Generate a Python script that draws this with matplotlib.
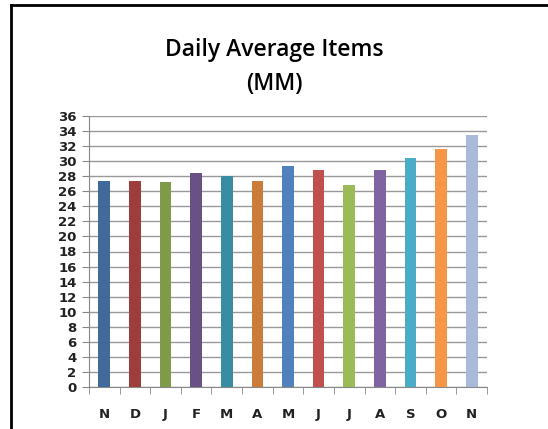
import matplotlib.pyplot as plt
from matplotlib.lines import Line2D

# months and daily average items (MM)
months = ["N", "D", "J", "F", "M", "A", "M", "J", "J", "A", "S", "O", "N"]
values = [27.4, 27.4, 27.2, 28.4, 28.0, 27.4, 29.35, 28.8, 26.8, 28.8, 30.4, 31.6, 33.5]
colors = ["#416A9B", "#9E3E3C", "#7F9A48", "#695185", "#3A8CA2", "#CB7B3A",
          "#4F81BD", "#C0504D", "#9BBB59", "#8064A2", "#4BACC6", "#F79646", "#A9B9D8"]
yticks = list(range(0, 37, 2))

fig = plt.figure(figsize=(5.48, 4.29), dpi=100)
ax = fig.add_axes([89/548, 1 - 387/429, (487-89)/548, (387-116)/429])

x = list(range(len(months)))
ax.bar(x, values, width=0.38, color=colors, zorder=3)

ax.set_xlim(-0.5, len(months) - 0.5)
ax.set_ylim(0, 36)
ax.set_yticks(yticks)
ax.set_yticklabels([str(t) for t in yticks], fontsize=9.5, fontweight="bold", color="#222222")
ax.set_xticks(x)
ax.set_xticklabels(months, fontsize=9.5, fontweight="bold", color="#222222")
ax.set_xticks([i + 0.5 for i in range(-1, len(months))], minor=True)
ax.tick_params(axis="x", which="major", length=0, pad=15)
ax.tick_params(axis="x", which="minor", length=5, color="#888888", direction="out")
ax.tick_params(axis="y", length=5, color="#888888", direction="out", pad=4)

ax.grid(axis="y", color="#999999", linewidth=1.0, zorder=0)
for side in ["top", "right"]:
    ax.spines[side].set_visible(False)
ax.spines["left"].set_color("#888888")
ax.spines["bottom"].set_color("#888888")

fig.text(274/548, 1 - 50/429, "Daily Average Items", ha="center", va="center",
         fontsize=16.5, family="Open Sans", fontweight="semibold")
fig.text(274/548, 1 - 84/429, "(MM)", ha="center", va="center",
         fontsize=16.5, family="Open Sans", fontweight="semibold")

# chart frame (top and left edges only)
fig.add_artist(Line2D([11/548, 11/548], [0, 1 - 5/429], transform=fig.transFigure,
                      color="black", linewidth=2))
fig.add_artist(Line2D([11/548, 1], [1 - 5/429, 1 - 5/429], transform=fig.transFigure,
                      color="black", linewidth=2))

plt.savefig("out.png", dpi=100)
